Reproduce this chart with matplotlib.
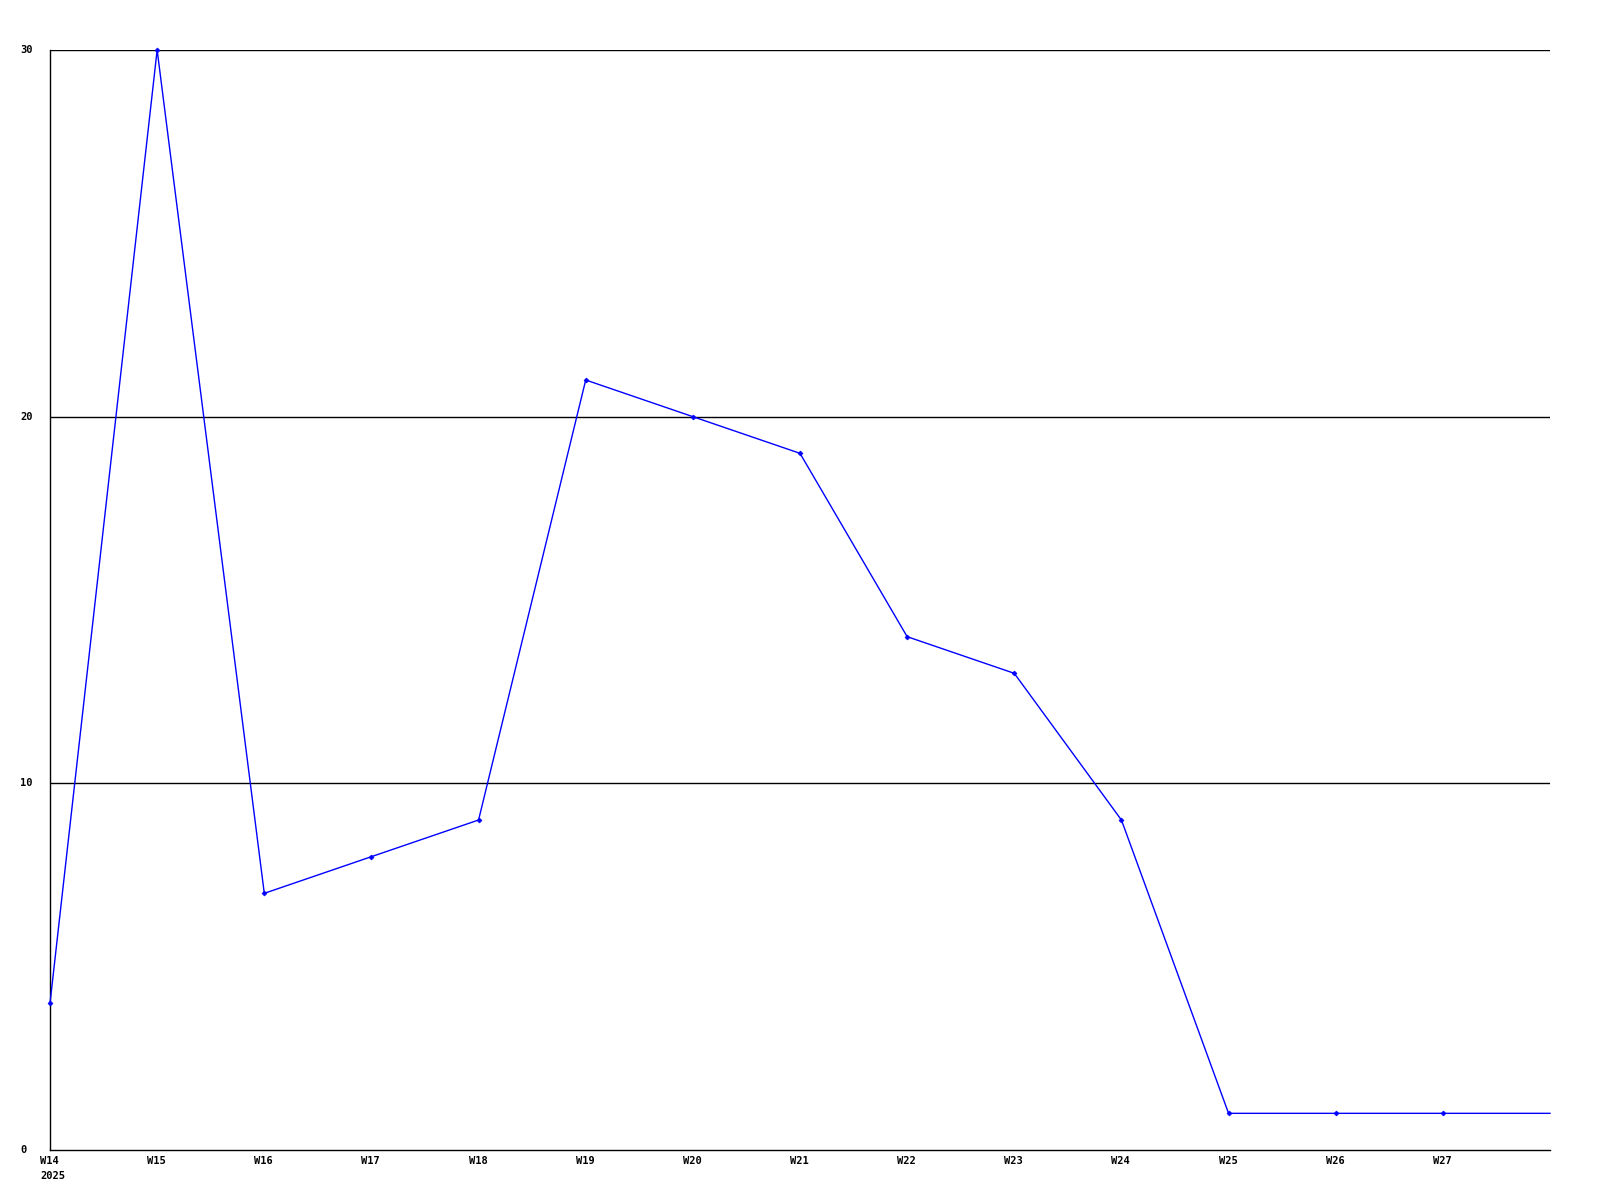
import matplotlib
matplotlib.use("Agg")
from matplotlib import pyplot as plt

weeks = ["W14", "W15", "W16", "W17", "W18", "W19", "W20", "W21",
         "W22", "W23", "W24", "W25", "W26", "W27", "W28"]
counts = [4, 30, 7, 8, 9, 21, 20, 19, 14, 13, 9, 1, 1, 1, 1]
y_ticks = [0, 10, 20, 30]
year_label = "2025"

fig = plt.figure(figsize=(16, 12), dpi=100)
ax = fig.add_axes([50 / 1600, 50 / 1200, 1500 / 1600, 1100 / 1200])

x = list(range(len(weeks)))
# the last point sits on the right edge and carries no marker
ax.plot(x, counts, color="#0000ff", linewidth=1.0, marker="D", markersize=2.5,
        markeredgewidth=0.5, markevery=list(range(len(weeks) - 1)),
        clip_on=False, zorder=3)

ax.set_xlim(0, len(weeks) - 1)
ax.set_ylim(0, 30)

for v in y_ticks[1:]:
    ax.axhline(v, color="black", linewidth=1.0, zorder=1)

for side in ["top", "right"]:
    ax.spines[side].set_visible(False)
for side in ["left", "bottom"]:
    ax.spines[side].set_color("black")
    ax.spines[side].set_linewidth(1.0)

ax.set_xticks([])
ax.set_yticks([])

font = dict(family="DejaVu Sans Mono", weight="bold", fontsize=7.5, color="black")

# x labels under the axis (last week is not labelled)
for i, w in enumerate(weeks[:-1]):
    ax.annotate(w, xy=(i, 0), xycoords="data", xytext=(-10, -6),
                textcoords="offset pixels", ha="left", va="top", **font)
ax.annotate(year_label, xy=(0, 0), xycoords="data", xytext=(-10, -21),
            textcoords="offset pixels", ha="left", va="top", **font)

# y labels at the left edge
for v in y_ticks:
    ax.annotate(str(v), xy=(0, v), xycoords="data", xytext=(-30, 0),
                textcoords="offset pixels", ha="left", va="center", **font)

fig.savefig("out.png", dpi=100)
